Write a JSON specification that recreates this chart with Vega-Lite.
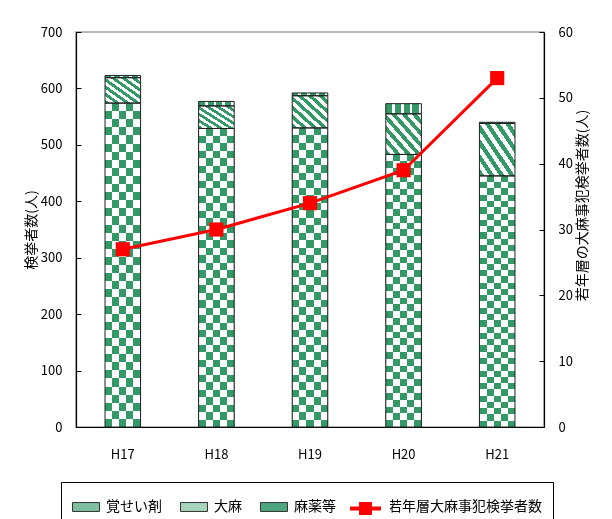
{
  "$schema": "https://vega.github.io/schema/vega-lite/v6.json",
  "width": 468,
  "height": 395,
  "padding": {"left": 24, "top": 26, "right": 5, "bottom": 0},
  "autosize": {"type": "pad"},
  "background": "#ffffff",
  "config": {
    "font": "Noto Sans CJK JP",
    "view": {"stroke": "#a0a0a0", "strokeWidth": 1.5},
    "axis": {
      "labelFont": "Noto Sans CJK JP",
      "titleFont": "Noto Sans CJK JP",
      "labelColor": "#000000",
      "titleColor": "#000000",
      "domainColor": "#000000",
      "tickColor": "#000000",
      "domainWidth": 1.2,
      "grid": false,
      "labelFontSize": 13,
      "titleFontSize": 14,
      "titleFontWeight": "normal"
    }
  },
  "datasets": {
    "bars": [
      {"year": "H17", "type": "覚せい剤", "value": 574},
      {"year": "H17", "type": "大麻", "value": 45},
      {"year": "H17", "type": "麻薬等", "value": 4},
      {"year": "H18", "type": "覚せい剤", "value": 529},
      {"year": "H18", "type": "大麻", "value": 40},
      {"year": "H18", "type": "麻薬等", "value": 8},
      {"year": "H19", "type": "覚せい剤", "value": 530},
      {"year": "H19", "type": "大麻", "value": 57},
      {"year": "H19", "type": "麻薬等", "value": 5},
      {"year": "H20", "type": "覚せい剤", "value": 483},
      {"year": "H20", "type": "大麻", "value": 72},
      {"year": "H20", "type": "麻薬等", "value": 18},
      {"year": "H21", "type": "覚せい剤", "value": 445},
      {"year": "H21", "type": "大麻", "value": 93},
      {"year": "H21", "type": "麻薬等", "value": 2}
    ],
    "youth": [
      {"year": "H17", "count": 27},
      {"year": "H18", "count": 30},
      {"year": "H19", "count": 34},
      {"year": "H20", "count": 39},
      {"year": "H21", "count": 53}
    ]
  },
  "layer": [
    {
      "data": {"name": "bars"},
      "transform": [
        {"calculate": "indexof(['覚せい剤','大麻','麻薬等'], datum.type)", "as": "ord"},
        {"stack": "value", "groupby": ["year"], "sort": [{"field": "ord", "order": "ascending"}], "as": ["y0", "y1"]}
      ],
      "layer": [
        {
          "mark": {"type": "bar"},
          "encoding": {
            "x": {
              "field": "year", "type": "nominal", "title": null,
              "scale": {"paddingInner": 0.62, "paddingOuter": 0.31},
              "axis": {"labelAngle": 0, "ticks": false, "tickSize": 0, "labelPadding": 21, "labelFontSize": 13}
            },
            "y": {
              "field": "y0", "type": "quantitative", "title": "検挙者数(人)",
              "scale": {"domain": [0, 700]},
              "axis": {"orient": "left", "values": [0, 100, 200, 300, 400, 500, 600, 700], "tickSize": -5, "labelPadding": 19, "titlePadding": 2}
            },
            "y2": {"field": "y1"},
            "fill": {
              "field": "type", "type": "nominal",
              "scale": {
                "domain": ["覚せい剤", "大麻", "麻薬等", "若年層大麻事犯検挙者数"],
                "range": ["#7fbf9f", "#a6d4bd", "#4da680", "#ffffff"]
              },
              "legend": {
                "orient": "none",
                "legendX": -15,
                "legendY": 450,
                "direction": "horizontal",
                "title": null,
                "strokeColor": "#000000",
                "fillColor": "#ffffff",
                "padding": 11,
                "labelFont": "Noto Sans CJK JP",
                "labelFontSize": 14,
                "labelColor": "#000000",
                "labelLimit": 300,
                "labelOffset": 6,
                "columnPadding": 16,
                "symbolSize": 729,
                "symbolType": "M-1,-0.33H1V0.33H-1Z",
                "symbolStrokeColor": "#333333",
                "symbolStrokeWidth": 1,
                "symbolOpacity": 1
              }
            }
          }
        },
        {
          "transform": [{"filter": "datum.type === '大麻'"}],
          "mark": {"type": "bar", "fill": {"gradient": "linear", "x1": 0, "y1": 1, "x2": 1, "y2": 0, "stops": [
            {"offset": 0, "color": "#339966"}, {"offset": 0.0714, "color": "#339966"},
            {"offset": 0.0714, "color": "#ffffff"}, {"offset": 0.1429, "color": "#ffffff"},
            {"offset": 0.1429, "color": "#339966"}, {"offset": 0.2143, "color": "#339966"},
            {"offset": 0.2143, "color": "#ffffff"}, {"offset": 0.2857, "color": "#ffffff"},
            {"offset": 0.2857, "color": "#339966"}, {"offset": 0.3571, "color": "#339966"},
            {"offset": 0.3571, "color": "#ffffff"}, {"offset": 0.4286, "color": "#ffffff"},
            {"offset": 0.4286, "color": "#339966"}, {"offset": 0.5, "color": "#339966"},
            {"offset": 0.5, "color": "#ffffff"}, {"offset": 0.5714, "color": "#ffffff"},
            {"offset": 0.5714, "color": "#339966"}, {"offset": 0.6429, "color": "#339966"},
            {"offset": 0.6429, "color": "#ffffff"}, {"offset": 0.7143, "color": "#ffffff"},
            {"offset": 0.7143, "color": "#339966"}, {"offset": 0.7857, "color": "#339966"},
            {"offset": 0.7857, "color": "#ffffff"}, {"offset": 0.8571, "color": "#ffffff"},
            {"offset": 0.8571, "color": "#339966"}, {"offset": 0.9286, "color": "#339966"},
            {"offset": 0.9286, "color": "#ffffff"}, {"offset": 1, "color": "#ffffff"}
          ]}},
          "encoding": {
            "x": {"field": "year", "type": "nominal"},
            "y": {"field": "y0", "type": "quantitative"},
            "y2": {"field": "y1"}
          }
        },
        {
          "transform": [{"filter": "datum.type === '麻薬等'"}],
          "mark": {"type": "bar", "fill": {"gradient": "linear", "x1": 0, "y1": 0, "x2": 1, "y2": 0, "stops": [
            {"offset": 0, "color": "#339966"}, {"offset": 0.17, "color": "#339966"},
            {"offset": 0.17, "color": "#ffffff"}, {"offset": 0.25, "color": "#ffffff"},
            {"offset": 0.25, "color": "#339966"}, {"offset": 0.42, "color": "#339966"},
            {"offset": 0.42, "color": "#ffffff"}, {"offset": 0.5, "color": "#ffffff"},
            {"offset": 0.5, "color": "#339966"}, {"offset": 0.67, "color": "#339966"},
            {"offset": 0.67, "color": "#ffffff"}, {"offset": 0.75, "color": "#ffffff"},
            {"offset": 0.75, "color": "#339966"}, {"offset": 0.92, "color": "#339966"},
            {"offset": 0.92, "color": "#ffffff"}, {"offset": 1, "color": "#ffffff"}
          ]}},
          "encoding": {
            "x": {"field": "year", "type": "nominal"},
            "y": {"field": "y0", "type": "quantitative"},
            "y2": {"field": "y1"}
          }
        },
        {
          "transform": [{"filter": "datum.type === '覚せい剤'"}],
          "mark": {"type": "bar", "fill": {"gradient": "linear", "x1": 0, "y1": 0, "x2": 0, "y2": 1, "stops": [
            {"offset": 0, "color": "#000000"}, {"offset": 0.025, "color": "#000000"},
            {"offset": 0.025, "color": "#ffffff"}, {"offset": 0.05, "color": "#ffffff"},
            {"offset": 0.05, "color": "#000000"}, {"offset": 0.075, "color": "#000000"},
            {"offset": 0.075, "color": "#ffffff"}, {"offset": 0.1, "color": "#ffffff"},
            {"offset": 0.1, "color": "#000000"}, {"offset": 0.125, "color": "#000000"},
            {"offset": 0.125, "color": "#ffffff"}, {"offset": 0.15, "color": "#ffffff"},
            {"offset": 0.15, "color": "#000000"}, {"offset": 0.175, "color": "#000000"},
            {"offset": 0.175, "color": "#ffffff"}, {"offset": 0.2, "color": "#ffffff"},
            {"offset": 0.2, "color": "#000000"}, {"offset": 0.225, "color": "#000000"},
            {"offset": 0.225, "color": "#ffffff"}, {"offset": 0.25, "color": "#ffffff"},
            {"offset": 0.25, "color": "#000000"}, {"offset": 0.275, "color": "#000000"},
            {"offset": 0.275, "color": "#ffffff"}, {"offset": 0.3, "color": "#ffffff"},
            {"offset": 0.3, "color": "#000000"}, {"offset": 0.325, "color": "#000000"},
            {"offset": 0.325, "color": "#ffffff"}, {"offset": 0.35, "color": "#ffffff"},
            {"offset": 0.35, "color": "#000000"}, {"offset": 0.375, "color": "#000000"},
            {"offset": 0.375, "color": "#ffffff"}, {"offset": 0.4, "color": "#ffffff"},
            {"offset": 0.4, "color": "#000000"}, {"offset": 0.425, "color": "#000000"},
            {"offset": 0.425, "color": "#ffffff"}, {"offset": 0.45, "color": "#ffffff"},
            {"offset": 0.45, "color": "#000000"}, {"offset": 0.475, "color": "#000000"},
            {"offset": 0.475, "color": "#ffffff"}, {"offset": 0.5, "color": "#ffffff"},
            {"offset": 0.5, "color": "#000000"}, {"offset": 0.525, "color": "#000000"},
            {"offset": 0.525, "color": "#ffffff"}, {"offset": 0.55, "color": "#ffffff"},
            {"offset": 0.55, "color": "#000000"}, {"offset": 0.575, "color": "#000000"},
            {"offset": 0.575, "color": "#ffffff"}, {"offset": 0.6, "color": "#ffffff"},
            {"offset": 0.6, "color": "#000000"}, {"offset": 0.625, "color": "#000000"},
            {"offset": 0.625, "color": "#ffffff"}, {"offset": 0.65, "color": "#ffffff"},
            {"offset": 0.65, "color": "#000000"}, {"offset": 0.675, "color": "#000000"},
            {"offset": 0.675, "color": "#ffffff"}, {"offset": 0.7, "color": "#ffffff"},
            {"offset": 0.7, "color": "#000000"}, {"offset": 0.725, "color": "#000000"},
            {"offset": 0.725, "color": "#ffffff"}, {"offset": 0.75, "color": "#ffffff"},
            {"offset": 0.75, "color": "#000000"}, {"offset": 0.775, "color": "#000000"},
            {"offset": 0.775, "color": "#ffffff"}, {"offset": 0.8, "color": "#ffffff"},
            {"offset": 0.8, "color": "#000000"}, {"offset": 0.825, "color": "#000000"},
            {"offset": 0.825, "color": "#ffffff"}, {"offset": 0.85, "color": "#ffffff"},
            {"offset": 0.85, "color": "#000000"}, {"offset": 0.875, "color": "#000000"},
            {"offset": 0.875, "color": "#ffffff"}, {"offset": 0.9, "color": "#ffffff"},
            {"offset": 0.9, "color": "#000000"}, {"offset": 0.925, "color": "#000000"},
            {"offset": 0.925, "color": "#ffffff"}, {"offset": 0.95, "color": "#ffffff"},
            {"offset": 0.95, "color": "#000000"}, {"offset": 0.975, "color": "#000000"},
            {"offset": 0.975, "color": "#ffffff"}, {"offset": 1, "color": "#ffffff"}
          ]}},
          "encoding": {
            "x": {"field": "year", "type": "nominal"},
            "y": {"field": "y0", "type": "quantitative"},
            "y2": {"field": "y1"}
          }
        },
        {
          "transform": [{"filter": "datum.type === '覚せい剤'"}],
          "mark": {"type": "bar", "blend": "difference", "fill": {"gradient": "linear", "x1": 0, "y1": 0, "x2": 1, "y2": 0, "stops": [
            {"offset": 0, "color": "#ffffff"}, {"offset": 0.2, "color": "#ffffff"},
            {"offset": 0.2, "color": "#000000"}, {"offset": 0.4, "color": "#000000"},
            {"offset": 0.4, "color": "#ffffff"}, {"offset": 0.6, "color": "#ffffff"},
            {"offset": 0.6, "color": "#000000"}, {"offset": 0.8, "color": "#000000"},
            {"offset": 0.8, "color": "#ffffff"}, {"offset": 1, "color": "#ffffff"}
          ]}},
          "encoding": {
            "x": {"field": "year", "type": "nominal"},
            "y": {"field": "y0", "type": "quantitative"},
            "y2": {"field": "y1"}
          }
        },
        {
          "transform": [{"filter": "datum.type === '覚せい剤'"}],
          "mark": {"type": "bar", "blend": "lighten", "fill": "#339966"},
          "encoding": {
            "x": {"field": "year", "type": "nominal"},
            "y": {"field": "y0", "type": "quantitative"},
            "y2": {"field": "y1"}
          }
        },
        {
          "mark": {"type": "bar", "fillOpacity": 0, "stroke": "#222222", "strokeWidth": 1},
          "encoding": {
            "x": {"field": "year", "type": "nominal"},
            "y": {"field": "y0", "type": "quantitative"},
            "y2": {"field": "y1"}
          }
        }
      ]
    },
    {
      "data": {"name": "youth"},
      "layer": [
        {
          "mark": {"type": "line", "strokeWidth": 3},
          "encoding": {
            "x": {"field": "year", "type": "nominal", "title": null},
            "y": {
              "field": "count", "type": "quantitative", "title": "若年層の大麻事犯検挙者数(人)",
              "scale": {"domain": [0, 60]},
              "axis": {"orient": "right", "values": [0, 10, 20, 30, 40, 50, 60], "titleAngle": 270, "titleBaseline": "top", "titleY": 173, "tickSize": -5, "labelPadding": 19, "titlePadding": 3}
            },
            "stroke": {
              "datum": "若年層大麻事犯検挙者数", "type": "nominal",
              "scale": {"range": ["#ff0000"]},
              "legend": {
                "orient": "none",
                "legendX": 274,
                "legendY": 461,
                "title": null,
                "padding": 0,
                "fillColor": "#ffffff",
                "labelFontSize": 1,
                "labelOpacity": 0,
                "labelOffset": 0,
                "labelLimit": 1,
                "symbolSize": 729,
                "symbolType": "M-1.15,0H1.15M-0.33,-0.33H0.33V0.33H-0.33ZM-0.1,-0.1H0.1V0.1H-0.1Z",
                "symbolStrokeColor": "#ff0000",
                "symbolStrokeWidth": 4,
                "symbolFillColor": "#ff0000",
                "symbolOpacity": 1
              }
            }
          }
        },
        {
          "mark": {"type": "point", "shape": "square", "filled": true, "color": "#ff0000", "size": 200, "opacity": 1},
          "encoding": {
            "x": {"field": "year", "type": "nominal", "title": null},
            "y": {"field": "count", "type": "quantitative", "title": "若年層の大麻事犯検挙者数(人)"}
          }
        }
      ]
    }
  ],
  "resolve": {"scale": {"y": "independent"}}
}
